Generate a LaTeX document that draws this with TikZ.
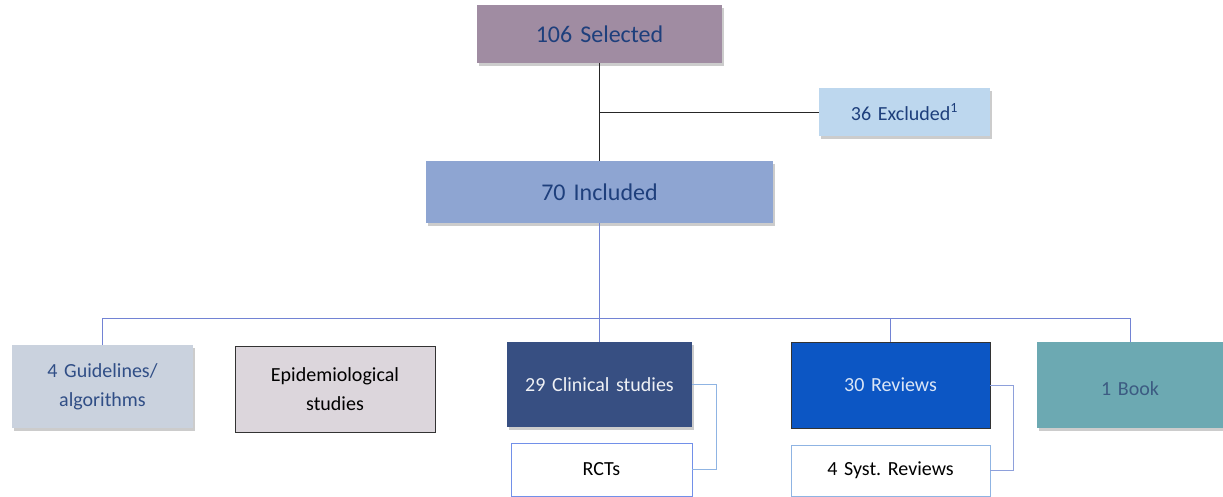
\documentclass[tikz,border=0pt]{standalone}
\usepackage{fontspec}
\setmainfont{Carlito}
\usepackage{tikz}
\usetikzlibrary{shadows}
\frenchspacing

\definecolor{selfill}{HTML}{A08CA2}
\definecolor{excfill}{HTML}{BDD7EE}
\definecolor{incfill}{HTML}{8EA5D2}
\definecolor{guifill}{HTML}{CAD2DE}
\definecolor{epifill}{HTML}{DCD6DC}
\definecolor{clinfill}{HTML}{374F82}
\definecolor{revfill}{HTML}{0C56C4}
\definecolor{bookfill}{HTML}{6CA9B2}
\definecolor{navytext}{HTML}{1E3F7C}
\definecolor{booktext}{HTML}{3C5B82}
\definecolor{busline}{HTML}{7283D4}
\definecolor{rctline}{HTML}{8FB4E3}
\definecolor{sysline}{HTML}{8EA0DB}

\newcommand\bigtype{\fontsize{24}{28}\selectfont\spaceskip=0.14em\relax}
\newcommand\midtype{\fontsize{20}{29}\selectfont\spaceskip=0.16em\relax}

\begin{document}
\begin{tikzpicture}[x=1pt,y=-1pt,
    box/.style={rectangle,inner sep=2pt,align=center,text width=#1},
    box/.default=170pt,
    shade/.style={drop shadow={opacity=0.4,shadow xshift=1.5pt,shadow yshift=-2.5pt}},
    trunk/.style={draw=black!85,line width=0.9pt},
    bus/.style={draw=busline,line width=0.9pt},
    big/.style={font=\bigtype},
    mid/.style={font=\midtype}]
        \useasboundingbox (0,0) rectangle (1223,496);

        % top of the tree
        \node[box=230pt,shade,fill=selfill,big,text=navytext,minimum width=245pt,minimum height=58pt] (sel) at (599.5,34) {106 Selected};
        \node[box=160pt,shade,fill=excfill,mid,text=navytext,minimum width=171pt,minimum height=48pt] (exc) at (904.5,112) {36 Excluded\textsuperscript{1}};
        \node[box=330pt,shade,fill=incfill,big,text=navytext,minimum width=347pt,minimum height=62pt] (inc) at (599.5,192) {70 Included};

        \coordinate (split) at (sel.south |- exc.west);
        \draw[trunk] (sel.south) -- (inc.north);
        \draw[trunk] (split) -- (exc.west);

        % the five groups
        \node[box,shade,fill=guifill,mid,text=navytext!92,minimum width=181pt,minimum height=83pt] (gui) at (102.5,386.5) {4 Guidelines/\\algorithms};
        \node[box=190pt,fill=epifill,draw=black!80,line width=0.9pt,mid,minimum width=200pt,minimum height=86pt] (epi) at (335,389) {Epidemiological\\studies};
        \node[box,shade,fill=clinfill,mid,text=white!92!clinfill,minimum width=185pt,minimum height=85pt] (clin) at (599.5,384.5) {29 Clinical studies};
        \node[box=190pt,fill=revfill,draw=black!80,line width=0.9pt,mid,text=white!85!revfill,minimum width=199pt,minimum height=86pt] (rev) at (890.5,385) {30 Reviews};
        \node[box,shade,fill=bookfill,mid,text=booktext,minimum width=186pt,minimum height=86pt] (book) at (1130,385) {\raisebox{-10pt}[0pt][0pt]{1 Book}};

        \coordinate (hub) at (inc.south |- 0,318);
        \draw[bus] (inc.south) -- (hub);
        \draw[bus] (gui.north) |- (book.north |- hub) -- (book.north);
        \draw[bus] (hub) -- (clin.north);
        \draw[bus] (rev.north |- hub) -- (rev.north);

        % sub boxes
        \node[box,fill=white,draw=rctline!80!blue,line width=0.9pt,mid,minimum width=181pt,minimum height=53pt] (rct) at (601.5,469.5) {RCTs};
        \node[box=190pt,fill=white,draw=rctline,line width=0.9pt,mid,minimum width=199pt,minimum height=51pt] (sys) at (890.5,470.5) {4 Syst. Reviews};

        \draw[draw=rctline,line width=0.9pt] (clin.east) -- ++(24,0) |- (rct.east);
        \draw[draw=sysline,line width=0.9pt] (rev.east) -- ++(23,0) |- (sys.east);
\end{tikzpicture}
\end{document}
